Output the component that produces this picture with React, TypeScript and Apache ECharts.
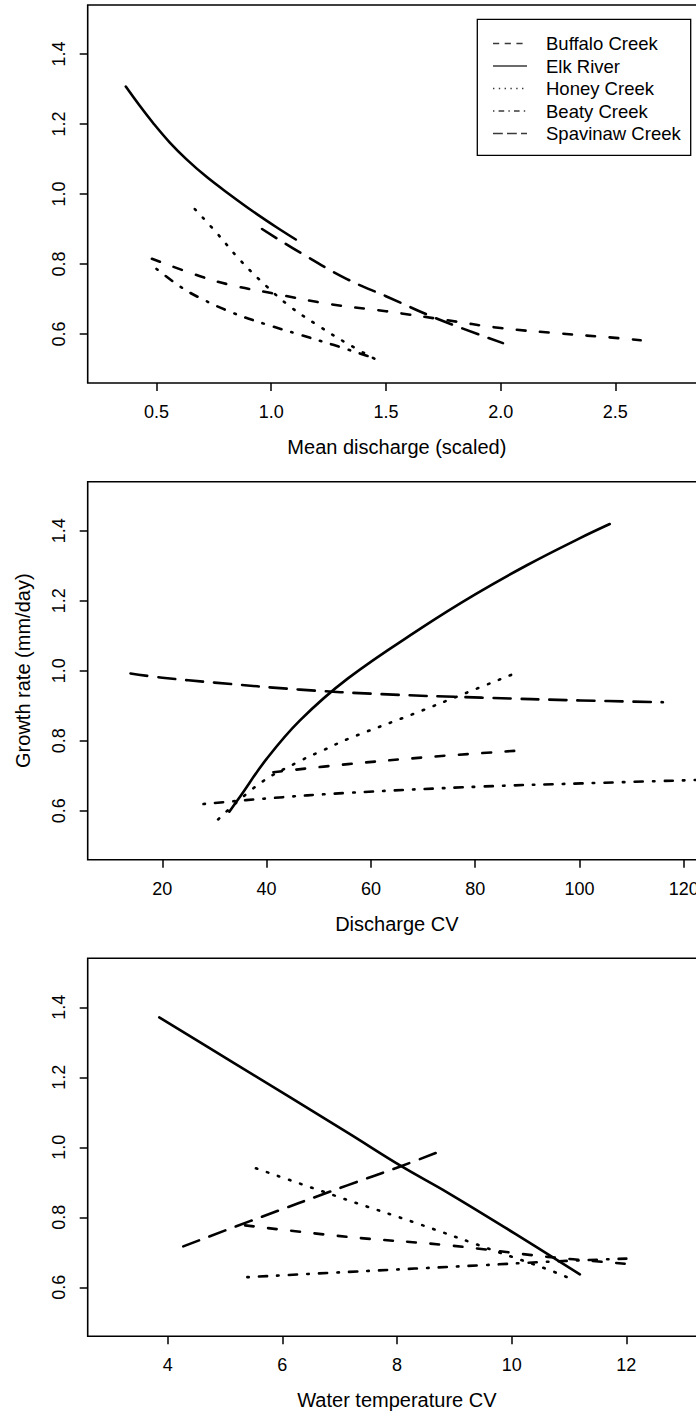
import React, { useEffect, useRef } from "react";
import * as echarts from "echarts";

// ---------- data ----------
const siteNames = ["Buffalo Creek", "Elk River", "Honey Creek", "Beaty Creek", "Spavinaw Creek"];

// Panel 1: growth rate vs mean discharge (scaled)
const meanDischargeBuffalo = [[0.48, 0.815], [0.69, 0.765], [0.83, 0.739], [1.0, 0.717], [1.25, 0.686], [1.5, 0.665], [1.75, 0.641], [2.0, 0.617], [2.25, 0.602], [2.5, 0.589], [2.61, 0.582]];
const meanDischargeElk = [[0.366, 1.307], [0.427, 1.252], [0.485, 1.203], [0.558, 1.147], [0.631, 1.099], [0.718, 1.049], [0.82, 0.998], [0.921, 0.95], [1.023, 0.905], [1.107, 0.87]];
const meanDischargeHoney = [[0.667, 0.957], [0.762, 0.889], [0.863, 0.812], [0.98, 0.736], [1.081, 0.679], [1.197, 0.627], [1.328, 0.574], [1.457, 0.527]];
const meanDischargeBeaty = [[0.5, 0.786], [0.602, 0.736], [0.689, 0.703], [0.834, 0.66], [0.98, 0.627], [1.125, 0.598], [1.27, 0.569], [1.443, 0.532]];
const meanDischargeSpavinaw = [[0.96, 0.9], [1.125, 0.833], [1.33, 0.757], [1.5, 0.708], [1.726, 0.643], [2.01, 0.574]];

// Panel 2: growth rate vs discharge CV
const dischargeCvBuffalo = [[41.3, 0.71], [55.6, 0.733], [71.6, 0.754], [87.6, 0.771]];
const dischargeCvElk = [[32.85, 0.597], [34.9, 0.64], [40, 0.748], [46.4, 0.858], [55.6, 0.978], [70, 1.125], [80, 1.218], [90, 1.302], [100, 1.378], [105.8, 1.419]];
const dischargeCvHoney = [[30.7, 0.575], [38.7, 0.678], [46.4, 0.742], [50.9, 0.773], [55.6, 0.805], [68.4, 0.878], [78, 0.935], [86.9, 0.988]];
const dischargeCvBeaty = [[27.9, 0.619], [40, 0.635], [55.6, 0.651], [81.2, 0.669], [100.3, 0.678], [123, 0.688]];
const dischargeCvSpavinaw = [[13.9, 0.992], [20, 0.98], [30, 0.966], [46.4, 0.946], [62, 0.933], [81.2, 0.923], [100.3, 0.915], [116, 0.91]];

// Panel 3: growth rate vs water temperature CV
const waterTempCvBuffalo = [[5.35, 0.777], [7.145, 0.744], [8.89, 0.72], [10.63, 0.687], [12.0, 0.667]];
const waterTempCvElk = [[3.853, 1.371], [5.144, 1.242], [7.145, 1.041], [8.075, 0.946], [8.889, 0.87], [10.05, 0.754], [11.19, 0.637]];
const waterTempCvHoney = [[5.54, 0.94], [7.145, 0.849], [8.31, 0.785], [9.76, 0.701], [10.63, 0.651], [11.05, 0.623]];
const waterTempCvBeaty = [[5.39, 0.629], [7.145, 0.644], [9.47, 0.663], [10.63, 0.673], [12.0, 0.682]];
const waterTempCvSpavinaw = [[4.272, 0.717], [5.436, 0.789], [7.145, 0.892], [8.07, 0.946], [8.85, 0.995]];

// ticks and titles
const growthTicks = [0.6, 0.8, 1.0, 1.2, 1.4];
const meanDischargeTicks = [0.5, 1.0, 1.5, 2.0, 2.5];
const dischargeCvTicks = [20, 40, 60, 80, 100, 120];
const waterTempCvTicks = [4, 6, 8, 10, 12];
const xTitles = ["Mean discharge (scaled)", "Discharge CV", "Water temperature CV"];
const yTitle = "Growth rate (mm/day)";

// ---------- styles ----------
const FONT = "'Liberation Sans', Arial, Helvetica, sans-serif";
const plotDash: (number[] | "solid")[] = [[8.7, 14.6], "solid", [1.5, 10.2], [1.5, 10.2, 8.1, 10.2], [17, 11]];
const legendDash: (number[] | null)[] = [[6.2, 5.5], null, [1.4, 4.4], [1.4, 4.2, 5.6, 4.2], [9.8, 4.2]];

export default function App() {
  const ref = useRef<HTMLDivElement>(null);
  useEffect(() => {
    if (!ref.current) return;
    const chart = echarts.init(ref.current, undefined, { renderer: "svg" });

    const panels = [
      { data: [meanDischargeBuffalo, meanDischargeElk, meanDischargeHoney, meanDischargeBeaty, meanDischargeSpavinaw], ticks: meanDischargeTicks, min: 0.2, max: 2.895, fmt: (v: number) => v.toFixed(1) },
      { data: [dischargeCvBuffalo, dischargeCvElk, dischargeCvHoney, dischargeCvBeaty, dischargeCvSpavinaw], ticks: dischargeCvTicks, min: 5.69, max: 124.26, fmt: (v: number) => String(v) },
      { data: [waterTempCvBuffalo, waterTempCvElk, waterTempCvHoney, waterTempCvBeaty, waterTempCvSpavinaw], ticks: waterTempCvTicks, min: 2.605, max: 13.39, fmt: (v: number) => String(v) },
    ];
    const tops = [5, 481.7, 958.3];

    const grid = tops.map((t) => ({
      left: 87.7, top: t, width: 618.3, height: 378,
      show: true, borderColor: "#000", borderWidth: 1.6, backgroundColor: "transparent",
      containLabel: false, outerBoundsMode: "none",
    }));

    const xAxis = panels.map((p, i) => ({
      type: "value", gridIndex: i, min: p.min, max: p.max,
      axisLine: { show: false }, splitLine: { show: false },
      axisTick: { show: true, length: 8, lineStyle: { color: "#000", width: 1.5 }, customValues: p.ticks },
      axisLabel: { customValues: p.ticks, formatter: p.fmt, fontSize: 18, color: "#000", fontFamily: FONT, margin: 20 },
      name: xTitles[i], nameLocation: "middle", nameGap: 54, nameMoveOverlap: false,
      nameTextStyle: { fontSize: 20, color: "#000", fontFamily: FONT },
    }));

    const yAxis = panels.map((_, i) => ({
      type: "value", gridIndex: i, min: 0.46, max: 1.54,
      axisLine: { show: false }, splitLine: { show: false },
      axisTick: { show: true, length: 8, lineStyle: { color: "#000", width: 1.5 }, customValues: growthTicks },
      axisLabel: { customValues: growthTicks, formatter: (v: number) => v.toFixed(1), rotate: 90, fontSize: 18, color: "#000", fontFamily: FONT, margin: 20 },
      name: i === 1 ? yTitle : "", nameLocation: "middle", nameGap: 55, nameMoveOverlap: false,
      nameTextStyle: { fontSize: 20, color: "#000", fontFamily: FONT },
    }));

    const series: any[] = [];
    panels.forEach((p, i) => {
      p.data.forEach((d, s) => {
        series.push({
          type: "line", name: siteNames[s], xAxisIndex: i, yAxisIndex: i, data: d,
          symbol: "none", showSymbol: false, smooth: 0.4, silent: true,
          lineStyle: { color: "#000", width: 2.6, type: plotDash[s], cap: "round", join: "round" },
        });
      });
    });

    const legendRowY = [43.5, 66, 88.5, 111, 133.5];
    const graphic: any[] = [
      { type: "rect", shape: { x: 477.3, y: 19.3, width: 213.4, height: 136 }, style: { fill: "#fff", stroke: "#000", lineWidth: 1.3 }, z: 10 },
    ];
    siteNames.forEach((name, s) => {
      graphic.push({
        type: "line", shape: { x1: 493, y1: legendRowY[s], x2: 527, y2: legendRowY[s] },
        style: { stroke: "#3a3a3a", lineWidth: 1.4, lineDash: legendDash[s] || undefined }, z: 11,
      });
      graphic.push({
        type: "text", x: 546, y: legendRowY[s],
        style: { text: name, fontSize: 18.5, fontFamily: FONT, fill: "#000", verticalAlign: "middle", align: "left" }, z: 11,
      });
    });

    chart.setOption({
      animation: false,
      backgroundColor: "#fff",
      grid, xAxis, yAxis, series, graphic,
    });
    return () => chart.dispose();
  }, []);
  return <div ref={ref} style={{ position: "absolute", left: 0, top: 0, width: 696, height: 1414 }} />;
}
